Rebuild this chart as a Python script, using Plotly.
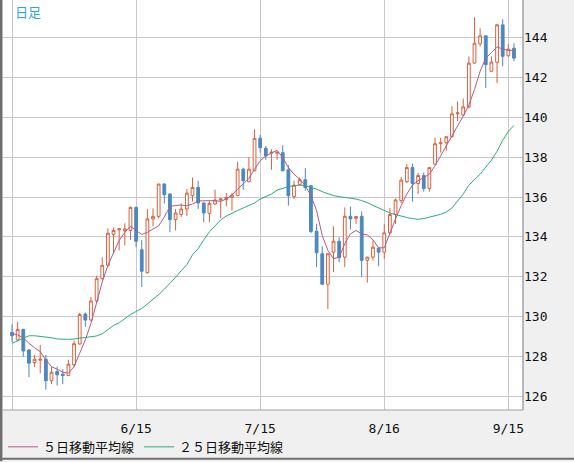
import pandas as pd
import plotly.graph_objects as go

# trading days (USD/JPY daily, 2022-05-16 .. 2022-09-16)
dates = pd.bdate_range("2022-05-16", "2022-09-16").strftime("%-m/%-d").tolist()

opens = [129.20, 128.82, 129.35, 128.32, 127.68, 127.80, 127.85, 126.77, 127.23, 127.10,
         127.03, 127.57, 128.62, 130.12, 129.82, 130.78, 131.90, 132.57, 134.12, 134.35,
         134.30, 134.32, 135.48, 133.35, 132.20, 134.90, 135.03, 136.65, 136.15, 134.87,
         135.12, 135.40, 136.07, 136.48, 135.70, 135.18, 135.65, 135.85, 135.87, 135.98,
         136.07, 137.40, 136.77, 137.32, 138.95, 138.45, 138.20, 138.20, 138.23, 137.37,
         136.03, 136.62, 136.87, 136.57, 134.28, 133.15, 131.62, 133.23, 133.78, 132.98,
         135.03, 134.93, 135.03, 132.82, 132.98, 133.43, 133.23, 134.20, 135.12, 135.82,
         136.77, 137.48, 136.68, 137.08, 136.43, 137.65, 138.68, 138.73, 139.03, 140.18,
         140.12, 140.53, 142.73, 143.70, 144.10, 142.32, 142.77, 144.65, 143.10, 143.48]
highs = [129.60, 129.73, 129.38, 128.35, 128.07, 128.57, 128.07, 127.48, 127.48, 127.35,
         127.82, 128.80, 130.18, 130.20, 130.98, 132.05, 132.98, 134.43, 134.47, 134.45,
         134.68, 135.52, 135.53, 133.85, 135.40, 135.43, 136.68, 136.70, 136.20, 135.40,
         135.68, 136.40, 136.98, 136.82, 135.72, 135.80, 136.37, 135.95, 136.20, 136.20,
         137.77, 137.48, 137.98, 139.40, 139.12, 138.57, 138.40, 138.27, 138.60, 137.60,
         136.82, 136.98, 137.45, 136.60, 134.65, 133.53, 133.18, 134.53, 133.98, 135.48,
         135.52, 135.05, 135.28, 133.00, 133.82, 133.48, 134.65, 135.45, 135.93, 137.00,
         137.65, 137.68, 137.23, 137.23, 137.50, 138.98, 138.98, 139.05, 140.57, 140.80,
         140.95, 143.07, 145.03, 144.48, 144.12, 143.07, 144.70, 144.93, 143.68, 143.73]
lows = [128.73, 128.80, 127.98, 126.95, 127.45, 127.15, 126.32, 126.60, 126.53, 126.60,
        127.00, 127.45, 128.58, 129.48, 129.75, 130.70, 131.85, 132.50, 133.15, 133.32,
        133.57, 133.85, 133.48, 131.48, 132.15, 134.53, 134.93, 135.68, 134.23, 134.32,
        135.00, 135.05, 135.77, 135.40, 134.73, 134.73, 135.60, 134.93, 135.53, 135.32,
        136.05, 136.37, 136.75, 137.30, 138.23, 137.87, 137.37, 137.87, 137.30, 135.57,
        135.90, 136.60, 136.32, 134.18, 132.48, 131.60, 130.37, 132.23, 132.73, 132.48,
        134.37, 134.65, 131.98, 131.70, 132.82, 132.53, 132.90, 134.15, 134.65, 135.70,
        136.70, 135.77, 136.15, 136.27, 136.27, 137.60, 138.23, 138.32, 139.00, 139.82,
        140.10, 140.45, 142.70, 143.57, 141.48, 142.30, 141.73, 142.57, 143.05, 142.82]
closes = [129.03, 129.35, 128.27, 127.65, 127.85, 127.85, 126.77, 127.20, 127.07, 127.03,
          127.60, 128.63, 130.10, 129.82, 130.78, 131.90, 132.57, 134.18, 134.32, 134.40,
          134.40, 135.48, 133.78, 132.27, 134.90, 135.03, 136.65, 136.12, 134.87, 135.20,
          135.40, 136.20, 136.48, 135.70, 135.20, 135.68, 135.85, 135.90, 135.98, 136.10,
          137.40, 136.82, 137.40, 138.95, 138.48, 138.07, 138.25, 138.25, 137.32, 136.07,
          136.60, 136.87, 136.48, 134.27, 133.20, 131.62, 133.15, 133.78, 132.95, 135.03,
          134.90, 135.02, 132.82, 132.98, 133.48, 133.23, 134.20, 135.12, 135.85, 136.85,
          137.48, 136.68, 137.08, 136.43, 137.48, 138.68, 138.73, 139.03, 140.18, 140.23,
          140.53, 142.73, 143.73, 144.10, 142.65, 142.78, 144.65, 143.07, 143.43, 142.98]

ma5 = [129.15, 129.07, 128.93, 128.65, 128.43, 128.23, 127.82, 127.48, 127.35, 127.20,
       127.15, 127.48, 128.15, 128.82, 129.65, 130.73, 131.73, 132.57, 133.23, 133.82,
       134.23, 134.53, 134.32, 134.12, 134.23, 134.40, 134.55, 135.00, 135.52, 135.58,
       135.60, 135.56, 135.65, 135.80, 135.82, 135.82, 135.82, 135.78, 135.90, 136.10,
       136.40, 136.65, 136.93, 137.40, 137.82, 138.07, 138.23, 138.35, 137.98, 137.48,
       137.15, 136.90, 136.57, 136.07, 135.32, 134.07, 133.32, 132.90, 132.98, 133.65,
       134.15, 134.32, 134.15, 134.10, 133.85, 133.45, 133.45, 134.23, 134.90, 135.57,
       136.15, 136.60, 136.82, 136.98, 137.15, 137.57, 138.07, 138.53, 139.07, 139.57,
       140.07, 140.62, 141.40, 142.32, 142.98, 143.25, 143.55, 143.43, 143.37, 143.37]
ma25 = [128.65, 128.78, 128.93, 129.03, 129.03, 129.00, 128.97, 128.93, 128.87, 128.85,
        128.85, 128.87, 128.90, 128.93, 128.97, 129.02, 129.13, 129.35, 129.55, 129.68,
        129.90, 130.10, 130.25, 130.40, 130.63, 130.85, 131.10, 131.37, 131.65, 131.97,
        132.30, 132.60, 133.10, 133.40, 133.85, 134.25, 134.55, 134.85, 135.05, 135.20,
        135.32, 135.45, 135.57, 135.70, 135.90, 136.02, 136.15, 136.35, 136.45, 136.52,
        136.57, 136.60, 136.57, 136.50, 136.40, 136.27, 136.15, 136.07, 136.02, 135.98,
        135.93, 135.90, 135.82, 135.72, 135.58, 135.45, 135.33, 135.20, 135.12, 135.03,
        134.97, 134.92, 134.88, 134.92, 134.98, 135.05, 135.13, 135.25, 135.45, 135.80,
        136.15, 136.60, 136.85, 137.15, 137.50, 137.85, 138.30, 138.85, 139.30, 139.60]

tick_idx = [0, 22, 44, 66, 88]
tick_text = ["", "6/15", "7/15", "8/16", "9/15"]
x = list(range(len(dates)))

UP = "#d9613d"
DOWN = "#4a88c0"

fig = go.Figure()
fig.add_trace(go.Candlestick(
    x=x, open=opens, high=highs, low=lows, close=closes,
    text=dates, hoverinfo="text+y",
    increasing=dict(line=dict(color=UP, width=1), fillcolor="white"),
    decreasing=dict(line=dict(color=DOWN, width=1), fillcolor=DOWN),
    showlegend=False,
))
fig.add_trace(go.Scatter(
    x=x, y=ma5, mode="lines", name="５日移動平均線",
    line=dict(color="#b65a86", width=1),
))
fig.add_trace(go.Scatter(
    x=x, y=ma25, mode="lines", name="２５日移動平均線",
    line=dict(color="#2aae74", width=1),
))

fig.update_layout(
    width=574,
    height=462,
    margin=dict(l=3, r=51, t=0, b=50),
    paper_bgcolor="#f0f0f0",
    plot_bgcolor="white",
    font=dict(family="DejaVu Sans Mono", size=13, color="#111111"),
    xaxis=dict(
        range=[-1.6, 90.6],
        tickmode="array",
        tickvals=tick_idx,
        ticktext=tick_text,
        showgrid=True,
        gridcolor="#c8c8c8",
        gridwidth=1,
        zeroline=False,
        showline=False,
        ticks="",
        ticklabelstandoff=9,
        rangeslider=dict(visible=False),
        fixedrange=True,
    ),
    yaxis=dict(
        side="right",
        range=[125.3, 145.9],
        dtick=2,
        showgrid=True,
        gridcolor="#c8c8c8",
        gridwidth=1,
        zeroline=False,
        showline=False,
        ticks="",
        fixedrange=True,
    ),
    legend=dict(
        orientation="h",
        x=0.0,
        xanchor="left",
        y=-0.09,
        yanchor="middle",
        bgcolor="rgba(0,0,0,0)",
        font=dict(family="Noto Sans CJK JP", size=13, color="#111111"),
        itemwidth=30,
    ),
    showlegend=True,
    hovermode="closest",
)

# title in the corner
fig.add_annotation(
    text="日足", xref="paper", yref="paper", x=0.02, y=1.0,
    xanchor="left", yanchor="top", showarrow=False,
    font=dict(family="Noto Sans CJK JP", size=13, color="#2aa8e0"),
)

# frame lines
fig.add_shape(type="line", xref="paper", yref="paper", x0=1, x1=1, y0=0, y1=1,
              line=dict(color="#7a7a7a", width=1))
fig.add_shape(type="line", xref="paper", yref="paper", x0=0, x1=1, y0=0, y1=0,
              line=dict(color="#a0a0a0", width=1))
fig.add_shape(type="line", xref="paper", yref="paper", x0=-0.004, x1=-0.004, y0=-0.125, y1=1,
              line=dict(color="#6e6e6e", width=3))
fig.add_shape(type="line", xref="paper", yref="paper", x0=-0.006, x1=1.1, y0=-0.119, y1=-0.119,
              line=dict(color="#6e6e6e", width=2))

# page body has a default 8px margin; drop it so the chart sits at the corner
fig.write_html("out.html", config={"displayModeBar": False},
               post_script="document.body.style.margin='0';")
